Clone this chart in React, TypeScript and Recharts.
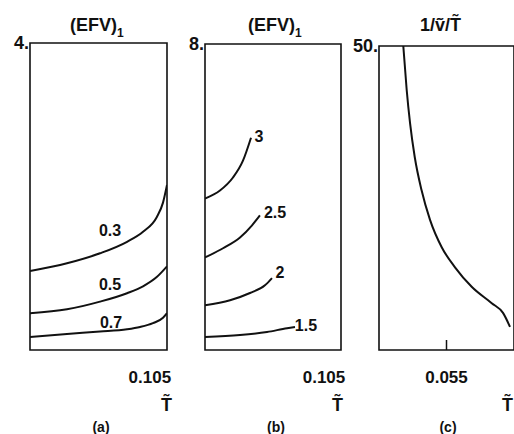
import React from 'react';
import { LineChart, Line, XAxis, YAxis, ReferenceArea, ReferenceDot } from 'recharts';

const FONT = '"Liberation Sans", Arial, Helvetica, sans-serif';
const INK = '#111';

// (a) (EFV)1 against T~
const tA03 = [0, 0.0324, 0.0613, 0.085, 0.099, 0.111, 0.1165, 0.12];
const efvA03 = [1.03, 1.13, 1.26, 1.41, 1.54, 1.73, 1.92, 2.15];
const tA05 = [0, 0.0324, 0.0613, 0.085, 0.099, 0.111, 0.12];
const efvA05 = [0.48, 0.53, 0.63, 0.74, 0.83, 0.95, 1.09];
const tA07 = [0, 0.0324, 0.0613, 0.085, 0.0964, 0.1077, 0.1165, 0.12];
const efvA07 = [0.17, 0.21, 0.24, 0.27, 0.3, 0.35, 0.42, 0.48];
const labelsA = ['0.3', '0.5', '0.7'];
const labelXA = [0.0701, 0.0701, 0.071];
const labelYA = [1.56, 0.85, 0.365];

// (b) (EFV)1 against T~
const tB3 = [0, 0.0132, 0.0247, 0.0335, 0.0406];
const efvB3 = [3.96, 4.17, 4.51, 4.95, 5.55];
const tB25 = [0, 0.0159, 0.0309, 0.0415, 0.0485];
const efvB25 = [2.42, 2.66, 2.94, 3.26, 3.52];
const tB2 = [0, 0.0221, 0.0397, 0.0529, 0.0591];
const efvB2 = [1.17, 1.3, 1.49, 1.69, 1.88];
const tB15 = [0, 0.0309, 0.0547, 0.0724, 0.0794];
const efvB15 = [0.34, 0.39, 0.47, 0.57, 0.6];
const labelsB = ['3', '2.5', '2', '1.5'];
const labelXB = [0.0476, 0.0618, 0.0662, 0.0891];
const labelYB = [5.58, 3.6, 2.03, 0.65];

// (c) 1/v~/T~ against T~
const tC = [0.0486, 0.0491, 0.0496, 0.0503, 0.0513, 0.05256, 0.05429, 0.05626, 0.05873, 0.0617, 0.06337, 0.06441];
const invC = [50, 42.8, 37.3, 31.7, 26.3, 21.4, 16.9, 13.6, 10.4, 7.7, 6.1, 3.8];

const pts = (xs: number[], ys: number[]) => xs.map((x, i) => ({ x, y: ys[i] }));

const seriesA = [pts(tA03, efvA03), pts(tA05, efvA05), pts(tA07, efvA07)];
const seriesB = [pts(tB3, efvB3), pts(tB25, efvB25), pts(tB2, efvB2), pts(tB15, efvB15)];
const seriesC = [pts(tC, invC)];

const tickStyle = { fill: INK, fontSize: 17, fontWeight: 'bold', fontFamily: FONT };

interface PanelProps {
  left: number;
  top: number;
  yAxisWidth: number;
  right: number;
  xDomain: [number, number];
  yDomain: [number, number];
  xTick: number;
  innerTick?: boolean;
  series: { x: number; y: number }[][];
  labels: string[];
  labelX: number[];
  labelY: number[];
  title: React.ReactNode;
  titleX: number;
  letter: string;
  letterX: number;
  tildeX: number;
}

const Panel = (p: PanelProps) => (
  <div style={{ position: 'absolute', left: p.left, top: 0 }}>
    <LineChart width={180} height={434} margin={{ top: p.top, right: p.right, bottom: 0, left: 0 }}>
      <XAxis
        dataKey="x"
        type="number"
        domain={p.xDomain}
        allowDataOverflow
        ticks={[p.xTick]}
        tickFormatter={(v: number) => String(v)}
        height={434 - 350}
        axisLine={false}
        tickLine={p.innerTick ? { stroke: INK, strokeWidth: 1.5 } : false}
        tickSize={p.innerTick ? -10 : 0}
        tickMargin={p.innerTick ? 31 : 21}
        tick={tickStyle}
      />
      <YAxis
        dataKey="y"
        type="number"
        domain={p.yDomain}
        allowDataOverflow
        ticks={[p.yDomain[1]]}
        tickFormatter={(v: number) => `${v}.`}
        width={p.yAxisWidth}
        axisLine={false}
        tickLine={false}
        tickSize={0}
        tickMargin={1}
        tick={{ ...tickStyle, fontSize: 18 }}
      />
      <ReferenceArea
        x1={p.xDomain[0]}
        x2={p.xDomain[1]}
        y1={p.yDomain[0]}
        y2={p.yDomain[1]}
        fill="none"
        stroke={INK}
        strokeWidth={1.6}
      />
      {p.series.map((d, i) => (
        <Line
          key={i}
          data={d}
          dataKey="y"
          type="monotone"
          stroke={INK}
          strokeWidth={2}
          dot={false}
          isAnimationActive={false}
        />
      ))}
      {p.labels.map((l, i) => (
        <ReferenceDot
          key={l}
          x={p.labelX[i]}
          y={p.labelY[i]}
          r={1}
          fill="none"
          stroke="none"
          label={{ value: l, position: 'center', fill: INK, fontSize: 16, fontWeight: 'bold', fontFamily: FONT }}
        />
      ))}
      <text x={p.titleX} y={31} fill={INK} fontSize={18} fontWeight="bold" fontFamily={FONT}>
        {p.title}
      </text>
      <text x={p.tildeX} y={411} fill={INK} fontSize={18} fontWeight="bold" fontFamily={FONT}>
        T̃
      </text>
      <text x={p.letterX} y={432} textAnchor="middle" fill={INK} fontSize={14} fontWeight="bold" fontFamily={FONT}>
        {p.letter}
      </text>
    </LineChart>
  </div>
);

const efvTitle = (
  <>
    (EFV)
    <tspan dy={6} fontSize={12}>1</tspan>
  </>
);

export default function App() {
  return (
    <div
      style={{
        position: 'absolute',
        left: 0,
        top: 0,
        width: 514,
        height: 434,
        overflow: 'hidden',
        background: '#fff',
      }}
    >
      <Panel
        left={0}
        top={43}
        yAxisWidth={30}
        right={13}
        xDomain={[0, 0.12]}
        yDomain={[0, 4]}
        xTick={0.105}
        series={seriesA}
        labels={labelsA}
        labelX={labelXA}
        labelY={labelYA}
        title={efvTitle}
        titleX={70}
        letter="(a)"
        letterX={101}
        tildeX={161}
      />
      <Panel
        left={172}
        top={44}
        yAxisWidth={33}
        right={11}
        xDomain={[0, 0.12]}
        yDomain={[0, 8]}
        xTick={0.105}
        series={seriesB}
        labels={labelsB}
        labelX={labelXB}
        labelY={labelYB}
        title={efvTitle}
        titleX={76}
        letter="(b)"
        letterX={104}
        tildeX={160}
      />
      <Panel
        left={352}
        top={46}
        yAxisWidth={27}
        right={18}
        xDomain={[0.045, 0.065]}
        yDomain={[0, 50]}
        xTick={0.055}
        innerTick
        series={seriesC}
        labels={[]}
        labelX={[]}
        labelY={[]}
        title="1/ṽ/T̃"
        titleX={68}
        letter="(c)"
        letterX={96}
        tildeX={150}
      />
    </div>
  );
}
